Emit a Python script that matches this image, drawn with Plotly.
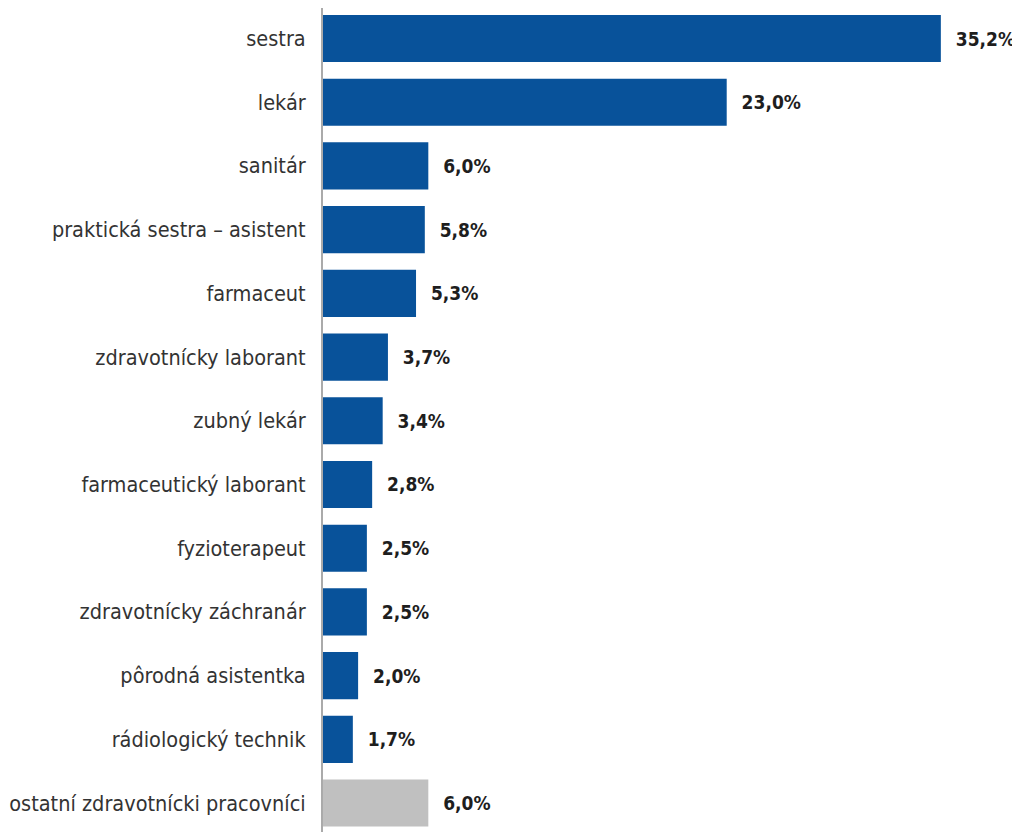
import plotly.graph_objects as go

categories = ["sestra", "lekár", "sanitár", "praktická sestra – asistent", "farmaceut",
              "zdravotnícky laborant", "zubný lekár", "farmaceutický laborant",
              "fyzioterapeut", "zdravotnícky záchranár", "pôrodná asistentka",
              "rádiologický technik", "ostatní zdravotnícki pracovníci"]
values = [35.2, 23.0, 6.0, 5.8, 5.3, 3.7, 3.4, 2.8, 2.5, 2.5, 2.0, 1.7, 6.0]
value_labels = ["35,2%", "23,0%", "6,0%", "5,8%", "5,3%", "3,7%", "3,4%", "2,8%",
                "2,5%", "2,5%", "2,0%", "1,7%", "6,0%"]
colors = ["#08529a"] * 12 + ["#c0c0c0"]

FONT = "DejaVu Sans Condensed, Liberation Sans Narrow, Arial Narrow, sans-serif"

fig = go.Figure(go.Bar(
    x=values, y=categories, orientation="h",
    marker=dict(color=colors, line=dict(width=0)),
    text=["<b>\u00a0\u00a0" + t + "</b>" for t in value_labels],
    textposition="outside", cliponaxis=False,
    textfont=dict(family=FONT, size=19, color="#1e1e1e"),
    width=0.74,
))

fig.update_layout(
    width=1020, height=832,
    margin=dict(l=315, r=38, t=0, b=0, autoexpand=False),
    paper_bgcolor="white", plot_bgcolor="white",
    showlegend=False,
)
fig.update_xaxes(range=[0, 38], visible=False, fixedrange=True)
fig.update_yaxes(
    type="category", range=[12.58, -0.479],
    showline=True, linecolor="#aaaaaa", linewidth=2,
    ticks="", ticklen=0, showgrid=False, zeroline=False,
    tickfont=dict(family=FONT, size=21.5, color="#333333"),
    ticklabelstandoff=11,
)
fig.write_html("out.html")
